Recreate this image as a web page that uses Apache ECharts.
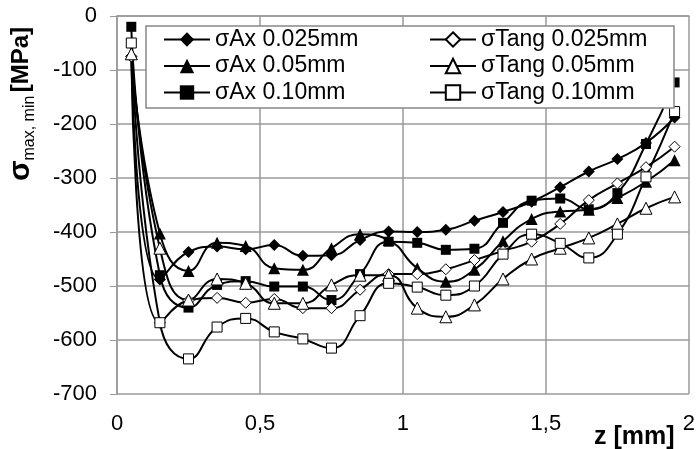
<!DOCTYPE html>
<html><head><meta charset="utf-8">
<script src="https://cdn.jsdelivr.net/npm/echarts@6/dist/echarts.min.js"></script>
<style>html,body{margin:0;padding:0;background:#fff}#c{width:698px;height:449px}</style>
</head><body><div id="c"></div>
<script>
var zValues = [0.05,0.15,0.25,0.35,0.45,0.55,0.65,0.75,0.85,0.95,1.05,1.15,1.25,1.35,1.45,1.55,1.65,1.75,1.85,1.95];
var seriesNames = ['σAx 0.025mm','σAx 0.05mm','σAx 0.10mm','σTang 0.025mm','σTang 0.05mm','σTang 0.10mm'];
var ax025 = [-75,-488,-437,-427,-432,-424,-444,-443,-415,-399,-400,-396,-379,-363,-344,-317,-288,-265,-235,-188];
var ax05  = [-70,-403,-472,-420,-426,-467,-470,-430,-404,-415,-467,-492,-470,-417,-376,-362,-359,-337,-307,-267];
var ax10  = [-20,-480,-540,-498,-491,-501,-501,-526,-478,-418,-420,-433,-431,-383,-342,-338,-358,-328,-237,-123];
var tg025 = [-75,-568,-527,-522,-531,-524,-541,-541,-507,-478,-478,-469,-452,-435,-418,-385,-341,-310,-280,-242];
var tg05  = [-70,-430,-526,-487,-495,-532,-532,-498,-480,-480,-541,-557,-535,-487,-450,-430,-411,-385,-356,-335];
var tg10  = [-50,-568,-635,-576,-560,-585,-598,-615,-555,-495,-502,-517,-500,-441,-404,-421,-448,-404,-298,-177];
var xTicks = [0,0.5,1,1.5,2];

var allVals = [ax025, ax05, ax10, tg025, tg05, tg10];
var symbols = ['diamond','triangle','rect','diamond','triangle','rect'];
var sizes = [12,12,10,11,12,10];
var filled = [true,true,true,false,false,false];

function pairs(v){ return zValues.map(function(z,i){return [z,v[i]];}); }

var series = allVals.map(function(v,k){
  return {
    name: seriesNames[k], type:'line', data: pairs(v), smooth: 0.5,
    symbol: symbols[k], symbolSize: sizes[k], showAllSymbol:true,
    lineStyle:{color:'#000', width:2},
    itemStyle: filled[k] ? {color:'#000', borderColor:'#000', borderWidth:0} : {color:'#fff', borderColor:'#000', borderWidth:1},
    emphasis:{disabled:true}, animation:false, z: 2
  };
});

var font = 'Liberation Sans, Arial, sans-serif';
var chart = echarts.init(document.getElementById('c'), null, {renderer:'canvas'});
var legendBase = {
  orient:'vertical', top:28, itemWidth:46, itemHeight:18, itemGap:3.5, padding:0,
  textStyle:{fontFamily:font, fontSize:23, color:'#000', lineHeight:23},
  selectedMode:false, z:6
};
chart.setOption({
  animation:false,
  grid:{left:117, top:16, right:1, bottom:55, containLabel:false},
  xAxis:{type:'value', min:0, max:2, interval:0.5,
    axisLine:{lineStyle:{color:'#999', width:1.5}}, axisTick:{show:false},
    splitLine:{show:true, lineStyle:{color:'#9a9a9a', width:1.5}},
    axisLabel:{fontFamily:font, fontSize:22, color:'#000', margin:19,
      formatter:function(v){ return xTicks.indexOf(v)>=0 ? String(v).replace('.',',') : ''; }}
  },
  yAxis:{type:'value', min:-700, max:0, interval:100,
    axisLine:{show:true, lineStyle:{color:'#999', width:1.5}},
    axisTick:{show:true, length:7, inside:false, lineStyle:{color:'#999'}},
    splitLine:{show:true, lineStyle:{color:'#9a9a9a', width:1.5}},
    axisLabel:{fontFamily:font, fontSize:22, color:'#000', margin:20}
  },
  legend:[
    Object.assign({}, legendBase, {left:163, data:seriesNames.slice(0,3)}),
    Object.assign({}, legendBase, {left:429, data:seriesNames.slice(3)})
  ],
  graphic:[
    {type:'rect', shape:{x:146, y:26, width:528, height:82}, style:{fill:'#fff', stroke:'#888', lineWidth:1.5}, z:5},
    {type:'text', x:21, y:104, rotation:Math.PI/2, z:6,
      style:{text:'{s|σ}{sub|max, min} {b|[MPa]}', align:'center', verticalAlign:'middle',
        rich:{
          s:{fontFamily:font, fontSize:30, fontWeight:'bold', fill:'#000'},
          sub:{fontFamily:font, fontSize:16, fill:'#000', padding:[17,0,0,0]},
          b:{fontFamily:font, fontSize:24, fontWeight:'bold', fill:'#000'}
        }}},
    {type:'text', x:594, y:437, z:6, style:{text:'z [mm]', fontFamily:font, fontSize:25, fontWeight:'bold', fill:'#000', verticalAlign:'middle'}}
  ],
  series: series
});
</script></body></html>
